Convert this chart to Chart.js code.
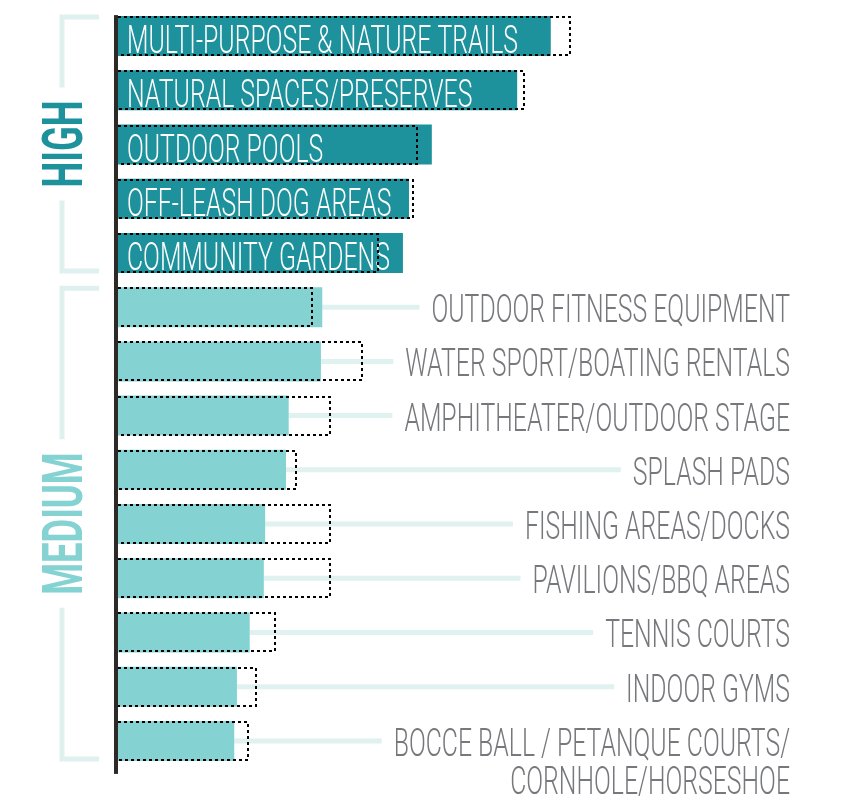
<!DOCTYPE html>
<html>
<head>
<meta charset="utf-8">
<script src="https://cdn.jsdelivr.net/npm/chart.js@4.4.1/dist/chart.umd.min.js"></script>
<style>
  html, body { margin: 0; padding: 0; background: #fff; }
  #wrap { width: 842px; height: 803px; position: relative; }
</style>
</head>
<body>
<div id="wrap"><canvas id="amenityChart"></canvas></div>
<script>
// amenity priorities - filled bar plus dashed outline bar
const categories = [
    'MULTI-PURPOSE & NATURE TRAILS',
    'NATURAL SPACES/PRESERVES',
    'OUTDOOR POOLS',
    'OFF-LEASH DOG AREAS',
    'COMMUNITY GARDENS',
    'OUTDOOR FITNESS EQUIPMENT',
    'WATER SPORT/BOATING RENTALS',
    'AMPHITHEATER/OUTDOOR STAGE',
    'SPLASH PADS',
    'FISHING AREAS/DOCKS',
    'PAVILIONS/BBQ AREAS',
    'TENNIS COURTS',
    'INDOOR GYMS',
    ['BOCCE BALL / PETANQUE COURTS/', 'CORNHOLE/HORSESHOE']
];
const priorityGroups = ['HIGH', 'HIGH', 'HIGH', 'HIGH', 'HIGH',
    'MEDIUM', 'MEDIUM', 'MEDIUM', 'MEDIUM', 'MEDIUM', 'MEDIUM', 'MEDIUM', 'MEDIUM', 'MEDIUM'];
const barValues = [64.4, 59.4, 46.7, 43.3, 42.4, 30.4, 30.2, 25.4, 25.0, 21.9, 21.7, 19.6, 17.7, 17.3];
const outlineValues = [67.4, 60.6, 44.6, 44.0, 38.8, 29.0, 36.5, 31.7, 26.6, 31.7, 31.7, 23.5, 20.7, 19.5];
const groupNames = ['HIGH', 'MEDIUM'];

const barColors = { HIGH: '#1d919c', MEDIUM: '#84d2d2' };
const LABEL_FONT = '300 39px Roboto';
const GROUP_FONT = '700 56px Roboto';
const SQUEEZE = 0.636;
const GROUP_SQUEEZE = 0.65;

function squeezedText(ctx, text, x, y, sx) {
    ctx.save();
    ctx.translate(x, y);
    ctx.scale(sx, 1);
    ctx.fillText(text, 0, 0);
    ctx.restore();
}

const amenityPlugin = {
    id: 'amenityLabels',
    beforeDatasetsDraw(chart) {
        // connector lines from bar end to the outside label
        const ctx = chart.ctx;
        const bars = chart.getDatasetMeta(1).data;
        ctx.save();
        ctx.font = LABEL_FONT;
        ctx.strokeStyle = '#e0f2f0';
        ctx.lineWidth = 5;
        bars.forEach((bar, i) => {
            if (priorityGroups[i] === 'HIGH') return;
            const first = [].concat(categories[i])[0];
            const w = ctx.measureText(first).width * SQUEEZE;
            const end = chart.chartArea.right - w - 12;
            ctx.beginPath();
            ctx.moveTo(bar.x, bar.y);
            ctx.lineTo(end, bar.y);
            ctx.stroke();
        });
        ctx.restore();
    },
    afterDatasetsDraw(chart) {
        const ctx = chart.ctx;
        const area = chart.chartArea;
        const bars = chart.getDatasetMeta(1).data;
        const outlines = chart.getDatasetMeta(0).data;

        // category labels
        ctx.save();
        ctx.font = LABEL_FONT;
        ctx.textBaseline = 'alphabetic';
        bars.forEach((bar, i) => {
            const lines = [].concat(categories[i]);
            if (priorityGroups[i] === 'HIGH') {
                ctx.fillStyle = '#ffffff';
                ctx.textAlign = 'left';
                squeezedText(ctx, lines[0], bar.base + 9, bar.y + 17, SQUEEZE);
            } else {
                ctx.fillStyle = '#77787c';
                ctx.textAlign = 'right';
                lines.forEach((line, k) => {
                    squeezedText(ctx, line, area.right, bar.y + 15 + k * 38, SQUEEZE);
                });
            }
        });
        ctx.restore();

        // dashed outline boxes
        ctx.save();
        ctx.strokeStyle = '#000000';
        ctx.lineWidth = 2;
        ctx.setLineDash([3, 3]);
        outlines.forEach(el => {
            const top = Math.round(el.y - el.height / 2) + 1;
            const bottom = Math.round(el.y + el.height / 2) - 1;
            const right = Math.round(el.x) - 1;
            ctx.beginPath();
            ctx.moveTo(el.base, top);
            ctx.lineTo(right, top);
            ctx.lineTo(right, bottom);
            ctx.lineTo(el.base, bottom);
            ctx.stroke();
        });
        ctx.restore();

        // vertical axis line
        const firstBar = bars[0];
        const lastBar = bars[bars.length - 1];
        ctx.save();
        ctx.fillStyle = '#2d2926';
        ctx.fillRect(area.left - 4, firstBar.y - firstBar.height / 2 - 1, 4,
            lastBar.y + lastBar.height / 2 + 13 - (firstBar.y - firstBar.height / 2 - 1));
        ctx.restore();

        // group brackets
        groupNames.forEach(name => {
            const idx = priorityGroups.map((g, i) => g === name ? i : -1).filter(i => i >= 0);
            const a = bars[idx[0]];
            const b = bars[idx[idx.length - 1]];
            const top = a.y - a.height / 2 + 1;
            const bottom = b.y + b.height / 2 - 2;
            const mid = (top + bottom) / 2;
            const lineX = 62;
            ctx.save();
            ctx.font = GROUP_FONT;
            const len = ctx.measureText(name).width * GROUP_SQUEEZE;
            ctx.strokeStyle = '#dff1ef';
            ctx.lineWidth = 5;
            ctx.beginPath();
            ctx.moveTo(99, top);
            ctx.lineTo(lineX, top);
            ctx.lineTo(lineX, mid - len / 2 - 13);
            ctx.moveTo(lineX, mid + len / 2 + 13);
            ctx.lineTo(lineX, bottom);
            ctx.lineTo(99, bottom);
            ctx.stroke();
            ctx.fillStyle = barColors[name];
            ctx.textAlign = 'center';
            ctx.textBaseline = 'alphabetic';
            ctx.translate(lineX, mid);
            ctx.rotate(-Math.PI / 2);
            ctx.scale(GROUP_SQUEEZE, 1);
            ctx.fillText(name, 0, 20);
            ctx.restore();
        });
    }
};

new Chart(document.getElementById('amenityChart'), {
    type: 'bar',
    data: {
        labels: categories,
        datasets: [
            {
                label: 'Outline',
                data: outlineValues,
                backgroundColor: 'rgba(0,0,0,0)',
                borderWidth: 0,
                grouped: false,
                categoryPercentage: 1,
                barPercentage: 0.738
            },
            {
                label: 'Value',
                data: barValues,
                backgroundColor: priorityGroups.map(g => barColors[g]),
                borderWidth: 0,
                grouped: false,
                categoryPercentage: 1,
                barPercentage: 0.738
            }
        ]
    },
    options: {
        indexAxis: 'y',
        responsive: true,
        maintainAspectRatio: false,
        animation: false,
        layout: { padding: { left: 118, right: 52, top: 9, bottom: 35 } },
        plugins: { legend: { display: false }, tooltip: { enabled: false } },
        scales: {
            x: { display: false, min: 0, max: 100 },
            y: { display: false }
        }
    },
    plugins: [amenityPlugin]
});
</script>
</body>
</html>
